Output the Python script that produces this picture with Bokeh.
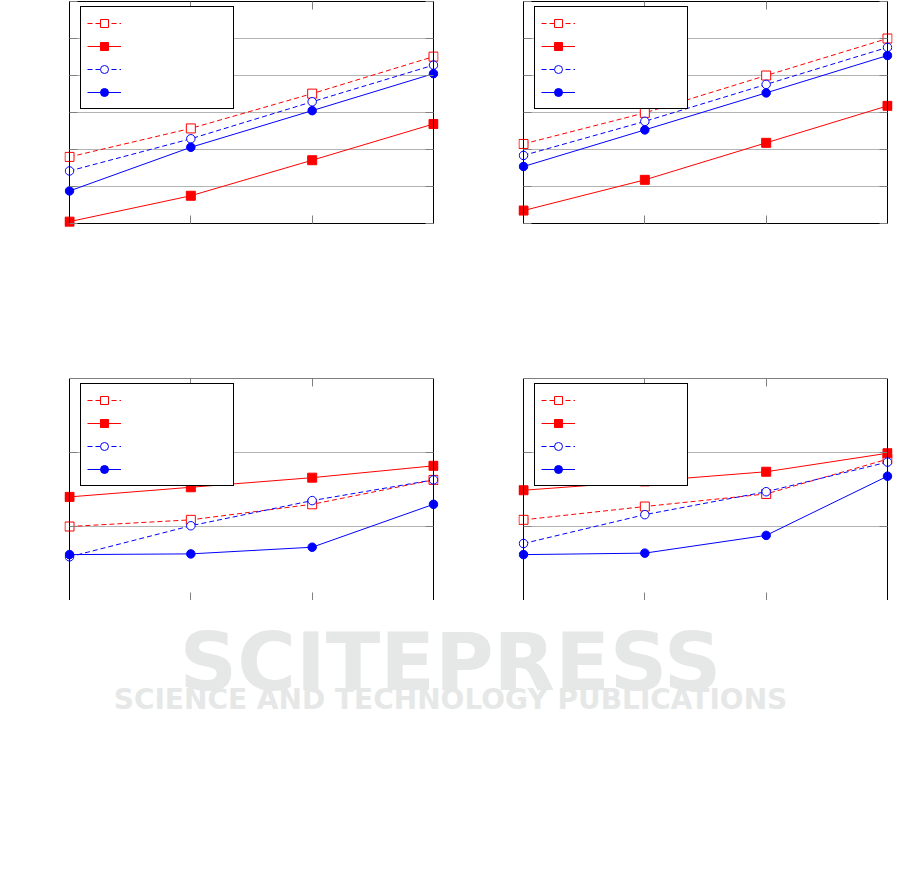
from bokeh.plotting import figure
from bokeh.models import (Range1d, LinearAxis, Legend, LegendItem, ColumnDataSource,
                          FixedTicker, Grid)
from bokeh.layouts import row, column
from bokeh.embed import file_html
from bokeh.resources import INLINE
from bokeh.core.properties import value

# ---------------- data ----------------
x_vals = [1, 2, 3, 4]

# top-left panel
p1_open_sq = [1.80, 2.57, 3.51, 4.51]
p1_fill_sq = [0.05, 0.75, 1.71, 2.69]
p1_open_ci = [1.42, 2.29, 3.29, 4.28]
p1_fill_ci = [0.88, 2.06, 3.05, 4.05]

# top-right panel
p2_open_sq = [2.15, 2.99, 4.00, 5.00]
p2_fill_sq = [0.35, 1.18, 2.18, 3.18]
p2_open_ci = [1.84, 2.76, 3.76, 4.76]
p2_fill_ci = [1.54, 2.53, 3.53, 4.54]

# bottom-left panel
p3_open_sq = [1.00, 1.09, 1.30, 1.63]
p3_fill_sq = [1.40, 1.53, 1.66, 1.82]
p3_open_ci = [0.59, 1.01, 1.35, 1.63]
p3_fill_ci = [0.62, 0.63, 0.72, 1.30]

# bottom-right panel
p4_open_sq = [1.09, 1.27, 1.44, 1.91]
p4_fill_sq = [1.49, 1.61, 1.74, 1.99]
p4_open_ci = [0.77, 1.16, 1.47, 1.87]
p4_fill_ci = [0.62, 0.64, 0.88, 1.68]

top_y_ticks = [0, 1, 2, 3, 4, 5, 6]
bottom_y_ticks = [0, 1, 2, 3]

watermark_big = "SCITEPRESS"
watermark_small = "SCIENCE AND TECHNOLOGY PUBLICATIONS"

RED = "#ff0000"
BLUE = "#0000ff"
DASH = "5 3"

BOX_W = 364          # px width of the drawn box
PAD_X = 5            # px of free room left/right of the box so edge markers are not cut
X_UNIT = BOX_W / 3.0


def make_panel(series, y_lo, y_hi, box_top_val, frame_h, y_ticks,
               left, right, top, bottom, legend_vy):
    xpad = PAD_X / X_UNIT
    p = figure(width=left + BOX_W + 2 * PAD_X + right, height=top + frame_h + bottom,
               output_backend="svg", toolbar_location=None,
               x_range=Range1d(1 - xpad, 4 + xpad), y_range=Range1d(y_lo, y_hi),
               x_axis_type=None, y_axis_type=None,
               min_border_left=left, min_border_right=right,
               min_border_top=top, min_border_bottom=bottom)
    p.outline_line_color = None
    p.background_fill_color = "white"
    p.border_fill_color = "white"

    grid = Grid(dimension=1, ticker=FixedTicker(ticks=y_ticks),
                cross_bounds=(1, 4), bounds=(0, box_top_val),
                grid_line_color="#b3b3b3", grid_line_width=1)
    p.add_layout(grid)

    axes = [
        (LinearAxis(fixed_location=0, bounds=(1, 4), ticker=FixedTicker(ticks=x_vals)), "below"),
        (LinearAxis(fixed_location=box_top_val, bounds=(1, 4), ticker=FixedTicker(ticks=x_vals)), "above"),
        (LinearAxis(fixed_location=1, bounds=(0, box_top_val), ticker=FixedTicker(ticks=y_ticks)), "left"),
        (LinearAxis(fixed_location=4, bounds=(0, box_top_val), ticker=FixedTicker(ticks=y_ticks)), "right"),
    ]
    for ax, side in axes:
        ax.axis_line_color = "black"
        ax.axis_line_width = 1
        ax.major_tick_in = 8
        ax.major_tick_out = 0
        ax.major_tick_line_color = "#808080"
        ax.major_tick_line_width = 1
        ax.minor_tick_line_color = None
        ax.major_label_text_color = None
        ax.major_label_text_font_size = "0px"
        ax.major_label_standoff = 0
        p.add_layout(ax, side)

    open_sq, fill_sq, open_ci, fill_ci = series
    items = []
    specs = [
        (open_sq, RED, DASH, "square", "white", 9),
        (fill_sq, RED, "solid", "square", RED, 9),
        (open_ci, BLUE, DASH, "circle", "white", 8.5),
        (fill_ci, BLUE, "solid", "circle", BLUE, 8.5),
    ]
    for ys, col, dash, mk, fill, sz in specs:
        src = ColumnDataSource(dict(x=x_vals, y=ys))
        ln = p.line("x", "y", source=src, line_color=col, line_width=1, line_dash=dash)
        sc = p.scatter("x", "y", source=src, marker=mk, size=sz,
                       line_color=col, fill_color=fill, line_width=1)
        items.append(LegendItem(label=" ", renderers=[ln, sc]))

    legend = Legend(items=items, location=(PAD_X + 11, legend_vy), margin=0, padding=6,
                    spacing=3, glyph_width=34, glyph_height=20,
                    label_width=100, label_height=20, label_standoff=6,
                    border_line_color="black", border_line_width=1,
                    border_line_alpha=1,
                    background_fill_color="white", background_fill_alpha=1,
                    label_text_color=None, label_text_font_size="1px")
    p.add_layout(legend)
    return p


# top row: box from y 1 (value 6) to 222 (value 0), spare px below and 1 px above
TOP_UNIT = 37.0
top_lo = -6 / TOP_UNIT
top_hi = 6 + 1 / TOP_UNIT
f1 = make_panel((p1_open_sq, p1_fill_sq, p1_open_ci, p1_fill_ci), top_lo, top_hi,
                6, 229, top_y_ticks, 64, 40, 0, 75, 120)
f2 = make_panel((p2_open_sq, p2_fill_sq, p2_open_ci, p2_fill_ci), top_lo, top_hi,
                6, 229, top_y_ticks, 40, 9, 0, 75, 120)
# bottom row: box from y 378 to 600, values 0..3
f3 = make_panel((p3_open_sq, p3_fill_sq, p3_open_ci, p3_fill_ci), 0, 3, 3, 222,
                bottom_y_ticks, 64, 40, 74, 0, 114)
f4 = make_panel((p4_open_sq, p4_fill_sq, p4_open_ci, p4_fill_ci), 0, 3, 3, 222,
                bottom_y_ticks, 40, 9, 74, 0, 114)

# watermark strip below the panels (pixel coordinates)
wm = figure(width=901, height=262, output_backend="svg", toolbar_location=None,
            x_range=Range1d(0, 901), y_range=Range1d(862, 600),
            x_axis_type=None, y_axis_type=None,
            min_border=0, min_border_left=0, min_border_right=0,
            min_border_top=0, min_border_bottom=0)
wm.outline_line_color = None
wm.xgrid.visible = False
wm.ygrid.visible = False
wm.background_fill_color = "white"
wm.border_fill_color = "white"
wm_src = ColumnDataSource(dict(x=[450, 450], y=[662, 699],
                               t=[watermark_big, watermark_small],
                               s=["80px", "28px"]))
wm.text("x", "y", text="t", source=wm_src, text_font=value("DejaVu Sans"),
        text_font_style="bold", text_font_size="s", text_color="#e6e8e7",
        text_align="center", text_baseline="alphabetic")

root = column(row(f1, f2), row(f3, f4), wm)

open("out.html", "w").write(file_html(root, INLINE))
